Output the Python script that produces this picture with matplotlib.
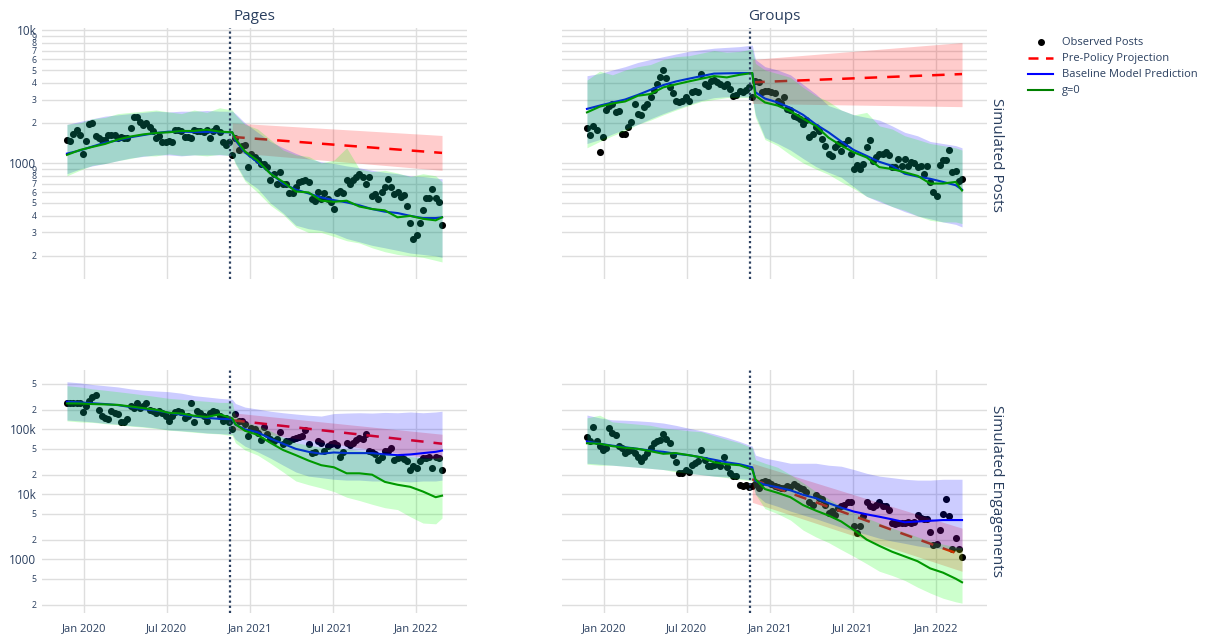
import matplotlib
matplotlib.use("Agg")
import matplotlib.pyplot as plt
import numpy as np
import pandas as pd
from matplotlib.lines import Line2D
from matplotlib.ticker import NullLocator

plt.rcParams["font.family"] = ["Open Sans", "DejaVu Sans"]
TXT = "#2a3f5f"
GRID = "#dedede"

# weekly observations, 2019-11-24 .. 2022-02-27
WEEKS = pd.date_range("2019-11-24", periods=119, freq="7D")
POLICY_DATE = pd.Timestamp("2020-11-18")
SAMPLE_WEEKS = [0, 4, 8, 12, 16, 20, 24, 28, 32, 36, 40, 44, 48, 52, 53,
                56, 60, 64, 68, 72, 76, 80, 84, 88, 92, 96, 100, 104, 108, 112, 116, 118]
PRE_WEEKS = [52, 118]

COLS = ["Pages", "Groups"]
ROWS = ["Simulated Posts", "Simulated Engagements"]
X_TICKS = ["2020-01-01", "2020-07-01", "2021-01-01", "2021-07-01", "2022-01-01"]
X_LABELS = ["Jan 2020", "Jul 2020", "Jan 2021", "Jul 2021", "Jan 2022"]

# ---------------- Pages / posts ----------------
PP_OBS = [1480, 1450, 1660, 1755, 1610, 1175, 1460, 1970, 1980, 1590,
          1540, 1480, 1480, 1610, 1610, 1610, 1540, 1560, 1540, 1540,
          1817, 2210, 2210, 2030, 1915, 2000, 1850, 1725, 1540, 1600,
          1437, 1440, 1450, 1440, 1755, 1755, 1740, 1565, 1560, 1540,
          1755, 1725, 1730, 1710, 1755, 1540, 1725, 1817, 1700, 1437,
          1372, 1437, 1141, 1540, 1245, 1340, 1372, 933, 1175, 1109,
          1060, 977, 977, 933, 742, 823, 700, 857, 700, 700,
          590, 595, 661, 720, 730, 740, 725, 532, 520, 600,
          540, 590, 540, 511, 448, 590, 610, 590, 742, 700,
          742, 790, 820, 790, 700, 790, 565, 580, 532, 600,
          660, 760, 660, 580, 600, 550, 570, 474, 352, 267,
          288, 352, 440, 545, 545, 632, 545, 508, 344]
PP_BASE = [1175, 1240, 1330, 1420, 1480, 1560, 1620, 1680, 1720, 1720, 1710, 1710, 1700, 1700, 1480,
           1200, 1010, 840, 700, 630, 590, 550, 525, 505, 480, 450, 430, 420, 400, 385, 385, 390]
PP_BASE_LO = [830, 900, 950, 990, 1040, 1090, 1120, 1150, 1150, 1130, 1150, 1150, 1150, 1140, 1000,
              750, 640, 500, 420, 340, 320, 310, 295, 270, 255, 240, 230, 220, 210, 205, 200, 195]
PP_BASE_HI = [1950, 2050, 2150, 2250, 2300, 2350, 2400, 2450, 2420, 2450, 2450, 2480, 2450, 2450, 2350,
              2000, 1700, 1450, 1300, 1180, 1080, 1020, 990, 950, 920, 880, 850, 830, 800, 790, 770, 760]
PP_G0 = [1150, 1250, 1320, 1390, 1500, 1580, 1640, 1680, 1700, 1740, 1740, 1780, 1720, 1700, 1520,
         1220, 1040, 830, 720, 610, 600, 520, 510, 520, 470, 450, 440, 390, 400, 380, 370, 390]
PP_G0_LO = [800, 880, 960, 990, 1040, 1080, 1130, 1130, 1170, 1140, 1150, 1130, 1160, 1130, 980,
            730, 600, 480, 410, 330, 300, 300, 280, 260, 250, 230, 215, 205, 200, 195, 185, 180]
PP_G0_HI = [1950, 2000, 2150, 2200, 2350, 2400, 2450, 2500, 2420, 2350, 2500, 2400, 2600, 2500, 2300,
            1950, 1800, 1500, 1250, 1150, 1120, 1000, 1050, 1300, 900, 860, 880, 840, 790, 830, 800, 720]
PP_PRE = [1570, 1190]
PP_PRE_LO = [1200, 880]
PP_PRE_HI = [2000, 1610]

# ---------------- Groups / posts ----------------
GP_OBS = [1840, 1620, 1900, 1760, 1210, 1560, 2480, 2700, 2780, 2400,
          2440, 1660, 1640, 1860, 2020, 2780, 2340, 2300, 2630, 2780,
          3120, 3560, 3900, 4400, 5000, 4350, 3750, 3350, 2900, 2880,
          2900, 3120, 2940, 3400, 3500, 3400, 4700, 3950, 3800, 4100,
          4200, 4050, 3900, 3800, 3950, 3600, 3200, 3250, 3450, 3430,
          3520, 3700, 3130, 4100, 4050, 3430, 3450, 3450, 3420, 3380,
          2940, 2800, 3120, 2550, 2480, 2270, 2200, 2150, 1970, 2100,
          1560, 1650, 1860, 1750, 1510, 1330, 1175, 1130, 1310, 1400,
          1240, 1400, 1480, 1170, 905, 970, 905, 990, 1320, 1480,
          1030, 1100, 1175, 1175, 1200, 1150, 933, 933, 1070, 950,
          1070, 950, 1020, 1000, 940, 950, 830, 950, 720, 606,
          560, 960, 1060, 1050, 1260, 860, 870, 730, 755]
GP_BASE = [2550, 2700, 2850, 3000, 3250, 3550, 3850, 4100, 4300, 4500, 4700, 4720, 4740, 4740, 3400,
           3050, 2850, 2600, 2300, 1950, 1700, 1450, 1250, 1130, 1020, 950, 830, 790, 760, 720, 680, 630]
GP_BASE_LO = [1400, 1500, 1650, 1800, 1950, 2150, 2350, 2550, 2750, 2950, 3100, 3150, 3150, 3150, 2300,
              1550, 1400, 1250, 1080, 940, 850, 780, 660, 560, 510, 470, 430, 400, 380, 360, 345, 330]
GP_BASE_HI = [4530, 4700, 5000, 5300, 5700, 6000, 6300, 6600, 6900, 7100, 7300, 7400, 7500, 7700, 6000,
              5300, 5000, 4600, 3900, 3300, 2700, 2500, 2300, 2200, 2100, 1900, 1700, 1600, 1450, 1400, 1350, 1300]
GP_G0 = [2400, 2650, 2800, 2900, 3200, 3300, 3700, 3900, 4100, 4300, 4500, 4400, 4600, 4750, 3200,
         2850, 2700, 2450, 2150, 1900, 1550, 1350, 1200, 1100, 930, 900, 850, 800, 700, 700, 720, 620]
GP_G0_LO = [1300, 1450, 1600, 1750, 1950, 2100, 2300, 2500, 2700, 2900, 3000, 3100, 3100, 3100, 2200,
            1500, 1350, 1150, 1000, 900, 820, 720, 640, 560, 520, 470, 440, 400, 370, 360, 360, 350]
GP_G0_HI = [4200, 4900, 4600, 5000, 5300, 5500, 6000, 6300, 6400, 6700, 7000, 6800, 6900, 7200, 5600,
            5000, 4700, 4400, 3700, 3200, 2900, 2500, 2300, 2400, 1900, 1800, 1600, 1500, 1400, 1350, 1300, 1250]
GP_PRE = [4040, 4660]
GP_PRE_LO = [2800, 2650]
GP_PRE_HI = [6000, 8040]

# ---------------- Pages / engagements (thousands) ----------------
PE_OBS = [251, 252, 250, 255, 255, 183, 225, 276, 319, 337,
          198, 160, 150, 146, 194, 180, 171, 130, 130, 143,
          225, 212, 250, 212, 230, 251, 201, 190, 180, 190,
          180, 160, 134, 160, 185, 190, 185, 148, 160, 251,
          130, 190, 180, 160, 136, 180, 190, 185, 160, 135,
          150, 128, 102, 172, 136, 136, 120, 80, 105, 100,
          89, 68, 108, 85, 70, 65, 70, 92, 59, 65,
          67, 72, 74, 75, 80, 96, 60, 43, 44, 67,
          61, 46, 55, 60, 61, 57, 38, 44, 61, 57,
          62, 68, 73, 70, 86, 47, 44, 42, 34, 38,
          46, 47, 52, 34, 36, 38, 35, 33, 24, 27,
          25, 33, 36, 36, 38, 25, 38, 36, 24]
PE_BASE = [266, 260, 252, 245, 236, 220, 205, 195, 180, 168, 158, 150, 145, 143, 118,
           100, 90, 72, 60, 50, 45, 42, 44, 43, 43, 43, 41, 40, 41, 43, 45, 47]
PE_BASE_LO = [139, 135, 130, 124, 120, 114, 110, 105, 98, 95, 92, 88, 86, 84, 70,
              55, 45, 36, 28, 22, 19, 18, 17, 16.5, 16.5, 16, 16, 16, 15.5, 16, 16, 16.5]
PE_BASE_HI = [540, 520, 490, 470, 450, 420, 400, 390, 380, 360, 330, 315, 300, 290, 250,
              220, 205, 190, 180, 172, 165, 160, 175, 178, 180, 178, 182, 180, 185, 180, 185, 190]
PE_G0 = [251, 250, 245, 242, 238, 225, 212, 200, 180, 175, 162, 155, 170, 148, 120,
         95, 82, 62, 48, 40, 33, 28, 26, 21, 21, 20, 15.5, 14, 13, 11, 9, 9.5]
PE_G0_LO = [135, 130, 128, 122, 118, 112, 108, 103, 97, 94, 90, 87, 85, 80, 62,
            48, 40, 30, 22, 16, 14, 12.5, 11, 9, 8, 7, 6.2, 5.8, 4.5, 3.6, 3.5, 4.3]
PE_G0_HI = [470, 450, 420, 400, 380, 360, 340, 320, 300, 290, 280, 270, 260, 260, 160,
            130, 115, 95, 75, 62, 57, 53, 52, 50, 47, 45, 42, 40, 38, 36, 36, 38]
PE_PRE = [138, 60]
PE_PRE_LO = [100, 34]
PE_PRE_HI = [180, 84]

# ---------------- Groups / engagements (thousands) ----------------
GE_OBS = [77, 65, 107, 67, 55, 48, 51, 106, 88, 82,
          56, 51, 43, 46, 48, 43, 38, 32, 38, 43,
          51, 61, 65, 69, 85, 71, 61, 40, 31, 21,
          21, 24, 22, 28, 30, 33, 48, 34, 27, 27,
          28, 30, 27, 37, 26, 21, 19, 19, 14, 13.4,
          13.8, 12.8, 13.4, 14.4, 12.6, 15.3, 15.8, 15.3, 14.5, 13.6,
          12.8, 12.4, 12.4, 13.6, 12.9, 14.5, 13.6, 12.4, 12.1, 11,
          7.7, 6.8, 9.8, 8.7, 8.5, 6.8, 5.1, 5.5, 4.8, 6.2,
          6.6, 6.8, 7.7, 7.5, 3.2, 2.5, 3.2, 4.6, 7.7, 6.5,
          6.3, 6.8, 7.7, 6.5, 6.5, 5.7, 3.6, 3.5, 3.6, 3.6,
          3.6, 3.7, 3.6, 3.8, 4.8, 4.3, 4.2, 4.2, 2.6, 1.65,
          1.7, 2.8, 5.0, 8.5, 4.6, 1.45, 2.1, 1.43, 1.06]
GE_BASE = [65, 60, 56, 53, 50, 47, 45, 42, 40, 37, 34, 31, 29, 26, 16,
           14, 12.8, 11.5, 9.8, 8.7, 7.3, 6.2, 5.4, 4.9, 4.5, 4.1, 3.7, 3.8, 3.9, 4.0, 4.0, 4.0]
GE_BASE_LO = [30, 29, 28, 27, 26, 25, 24, 23, 21, 20, 19, 18.5, 17.5, 16.6, 10,
              7.5, 6.5, 5.5, 4.8, 4.2, 3.6, 3.1, 2.7, 2.4, 2.1, 1.9, 1.75, 1.6, 1.5, 1.45, 1.4, 1.4]
GE_BASE_HI = [166, 150, 140, 138, 135, 131, 125, 115, 104, 95, 85, 75, 65, 55, 40,
              36, 33, 30, 30, 30, 28, 27, 24, 21, 19, 18, 17, 16.5, 16.5, 17, 17, 17]
GE_G0 = [61, 60, 55, 52, 50, 46, 42, 43, 40, 37, 31, 29, 28, 24, 17,
         12, 10.5, 9, 6.8, 5.6, 4.7, 3.8, 2.8, 2.0, 1.6, 1.3, 1.1, 0.93, 0.72, 0.62, 0.5, 0.44]
GE_G0_LO = [29, 28, 28, 27, 26, 25, 24, 22, 21, 20, 19, 18, 17, 16, 10,
            6, 5, 4, 2.8, 2.2, 1.8, 1.4, 1.1, 0.85, 0.65, 0.56, 0.47, 0.37, 0.3, 0.25, 0.22, 0.21]
GE_G0_HI = [150, 165, 130, 125, 120, 115, 105, 100, 95, 92, 80, 70, 62, 52, 34,
            30, 26, 20, 15, 11, 8.5, 6.5, 5.2, 4.3, 3.6, 3.0, 2.6, 2.2, 1.9, 1.7, 1.55, 1.5]
GE_PRE = [17, 1.15]
GE_PRE_LO = [7.5, 0.65]
GE_PRE_HI = [30, 3.0]

POSTS_TICKS = [200, 300, 400, 500, 600, 700, 800, 900, 1000,
               2000, 3000, 4000, 5000, 6000, 7000, 8000, 9000, 10000]
POSTS_LABELS = ["2", "3", "4", "5", "6", "7", "8", "9", "1000",
                "2", "3", "4", "5", "6", "7", "8", "9", "10k"]
ENG_TICKS = [200, 500, 1000, 2000, 5000, 10000, 20000, 50000, 100000, 200000, 500000]
ENG_LABELS = ["2", "5", "1000", "2", "5", "10k", "2", "5", "100k", "2", "5"]


def draw_panel(ax, obs, base, base_lo, base_hi, g0, g0_lo, g0_hi, pre, pre_lo, pre_hi, scale):
    sx = WEEKS[SAMPLE_WEEKS]
    px = WEEKS[PRE_WEEKS]
    s = lambda v: np.asarray(v, dtype=float) * scale
    ax.scatter(WEEKS, s(obs), s=26, color="black", linewidths=0, zorder=2)
    ax.plot(px, s(pre), color="#ff0000", lw=1.8, ls=(0, (5, 4)), zorder=3)
    ax.fill_between(px, s(pre_lo), s(pre_hi), color=(1, 0, 0, 0.2), lw=0, zorder=3)
    ax.plot(sx, s(base), color="#0000ff", lw=1.5, zorder=4)
    ax.fill_between(sx, s(base_lo), s(base_hi), color=(0, 0, 1, 0.2), lw=0, zorder=4)
    ax.plot(sx, s(g0), color="#008000", lw=1.5, zorder=5)
    ax.fill_between(sx, s(g0_lo), s(g0_hi), color=(0, 1, 0, 0.2), lw=0, zorder=5)
    ax.axvline(POLICY_DATE, color=TXT, lw=1.6, ls=(0, (1, 1.3)), zorder=6)


def style_axis(ax, ticks, labels, ylim, show_y, show_x):
    ax.set_yscale("log")
    ax.set_ylim(*ylim)
    ax.set_xlim(pd.Timestamp("2019-09-30"), pd.Timestamp("2022-04-23"))
    ax.set_yticks(ticks)
    ax.yaxis.set_minor_locator(NullLocator())
    ax.set_xticks(pd.to_datetime(X_TICKS))
    ax.grid(True, color=GRID, lw=1.0, zorder=0)
    ax.set_axisbelow(True)
    for sp in ax.spines.values():
        sp.set_visible(False)
    ax.tick_params(length=0, colors=TXT, pad=4)
    if show_y:
        ax.set_yticklabels(labels)
        for lab in ax.get_yticklabels():
            lab.set_fontsize(8.5 if len(lab.get_text()) > 1 else 6.3)
    else:
        ax.set_yticklabels([])
    if show_x:
        ax.set_xticklabels(X_LABELS, fontsize=8)
        ax.tick_params(axis="x", pad=7)
    else:
        ax.set_xticklabels([])


W, H = 1215, 634
fig = plt.figure(figsize=(W / 100, H / 100), dpi=100)
lefts = [42 / W, 562 / W]
aw = 425 / W
rows = [(1 - 279 / H, 251 / H), (1 - 613 / H, 243 / H)]

panels = [
    [(PP_OBS, PP_BASE, PP_BASE_LO, PP_BASE_HI, PP_G0, PP_G0_LO, PP_G0_HI, PP_PRE, PP_PRE_LO, PP_PRE_HI, 1),
     (GP_OBS, GP_BASE, GP_BASE_LO, GP_BASE_HI, GP_G0, GP_G0_LO, GP_G0_HI, GP_PRE, GP_PRE_LO, GP_PRE_HI, 1)],
    [(PE_OBS, PE_BASE, PE_BASE_LO, PE_BASE_HI, PE_G0, PE_G0_LO, PE_G0_HI, PE_PRE, PE_PRE_LO, PE_PRE_HI, 1000),
     (GE_OBS, GE_BASE, GE_BASE_LO, GE_BASE_HI, GE_G0, GE_G0_LO, GE_G0_HI, GE_PRE, GE_PRE_LO, GE_PRE_HI, 1000)],
]

for r, (bottom, height) in enumerate(rows):
    for c, left in enumerate(lefts):
        ax = fig.add_axes([left, bottom, aw, height])
        draw_panel(ax, *panels[r][c])
        if r == 0:
            style_axis(ax, POSTS_TICKS, POSTS_LABELS, (134, 10350), c == 0, False)
        else:
            style_axis(ax, ENG_TICKS, ENG_LABELS, (148, 820000), c == 0, True)

for c, name in enumerate(COLS):
    fig.text(lefts[c] + aw / 2, 1 - 17 / H, name, ha="center", va="center", fontsize=11, color=TXT)
fig.text(997 / W, 1 - 155 / H, ROWS[0], rotation=270, ha="center", va="center", fontsize=11, color=TXT)
fig.text(997 / W, 1 - 491 / H, ROWS[1], rotation=270, ha="center", va="center", fontsize=11, color=TXT)

handles = [
    Line2D([], [], marker="o", ls="none", color="black", markersize=4),
    Line2D([], [], color="#ff0000", lw=1.8, ls=(0, (4, 3))),
    Line2D([], [], color="#0000ff", lw=1.5),
    Line2D([], [], color="#008000", lw=1.5),
]
labels = ["Observed Posts", "Pre-Policy Projection", "Baseline Model Prediction", "g=0"]
leg = fig.legend(handles, labels, loc="upper left", bbox_to_anchor=(1024 / W, 1 - 33 / H),
                 frameon=False, fontsize=8, handlelength=2.2, labelspacing=0.45, borderaxespad=0)
for t in leg.get_texts():
    t.set_color(TXT)

fig.savefig("out.png", dpi=100)
